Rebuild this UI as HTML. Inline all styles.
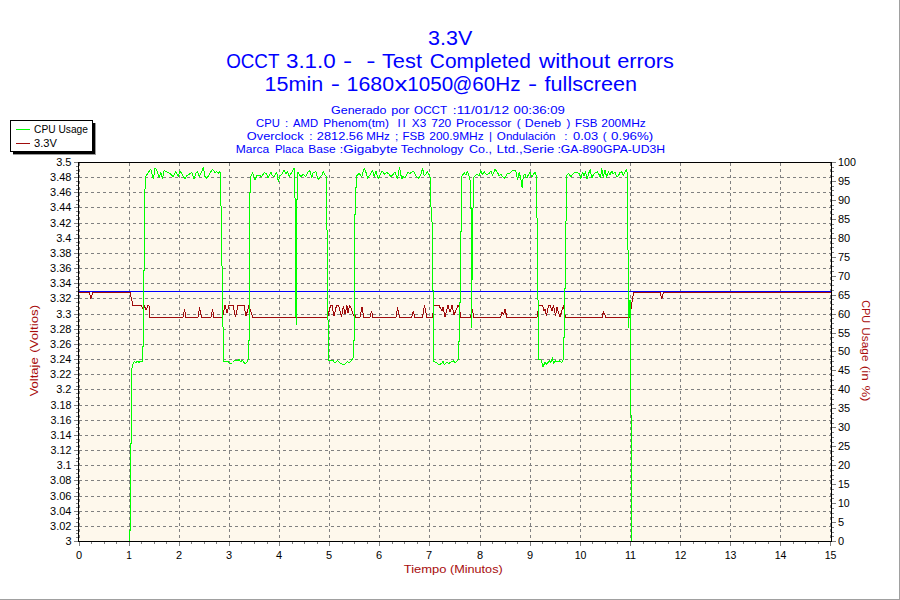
<!DOCTYPE html>
<html><head><meta charset="utf-8"><title>3.3V</title>
<style>
html,body{margin:0;padding:0;background:#fff;width:900px;height:600px;overflow:hidden;font-family:"Liberation Sans",sans-serif;}
svg text{font-family:"Liberation Sans",sans-serif;}
</style></head><body>
<svg width="900" height="600" viewBox="0 0 900 600" style="position:absolute;left:0;top:0;display:block">
<rect x="0" y="0" width="900" height="600" fill="#ffffff"/>
<g shape-rendering="crispEdges">
<rect x="899" y="0" width="1" height="600" fill="#a0a0a0"/>
<rect x="0" y="599" width="900" height="1" fill="#a0a0a0"/>
<rect x="78" y="162" width="754" height="380" fill="#fef8ec"/>
<g stroke="#808080" stroke-width="1" stroke-dasharray="3 3" fill="none"><line x1="79" y1="526.5" x2="831" y2="526.5"/><line x1="79" y1="511.5" x2="831" y2="511.5"/><line x1="79" y1="496.5" x2="831" y2="496.5"/><line x1="79" y1="480.5" x2="831" y2="480.5"/><line x1="79" y1="465.5" x2="831" y2="465.5"/><line x1="79" y1="450.5" x2="831" y2="450.5"/><line x1="79" y1="435.5" x2="831" y2="435.5"/><line x1="79" y1="420.5" x2="831" y2="420.5"/><line x1="79" y1="405.5" x2="831" y2="405.5"/><line x1="79" y1="389.5" x2="831" y2="389.5"/><line x1="79" y1="374.5" x2="831" y2="374.5"/><line x1="79" y1="359.5" x2="831" y2="359.5"/><line x1="79" y1="344.5" x2="831" y2="344.5"/><line x1="79" y1="329.5" x2="831" y2="329.5"/><line x1="79" y1="314.5" x2="831" y2="314.5"/><line x1="79" y1="298.5" x2="831" y2="298.5"/><line x1="79" y1="283.5" x2="831" y2="283.5"/><line x1="79" y1="268.5" x2="831" y2="268.5"/><line x1="79" y1="253.5" x2="831" y2="253.5"/><line x1="79" y1="238.5" x2="831" y2="238.5"/><line x1="79" y1="223.5" x2="831" y2="223.5"/><line x1="79" y1="207.5" x2="831" y2="207.5"/><line x1="79" y1="192.5" x2="831" y2="192.5"/><line x1="79" y1="177.5" x2="831" y2="177.5"/></g>
<g stroke="#808080" stroke-width="1" stroke-dasharray="3 3" fill="none"><line x1="79.5" y1="163" x2="79.5" y2="541"/><line x1="129.5" y1="163" x2="129.5" y2="541"/><line x1="179.5" y1="163" x2="179.5" y2="541"/><line x1="229.5" y1="163" x2="229.5" y2="541"/><line x1="279.5" y1="163" x2="279.5" y2="541"/><line x1="329.5" y1="163" x2="329.5" y2="541"/><line x1="379.5" y1="163" x2="379.5" y2="541"/><line x1="429.5" y1="163" x2="429.5" y2="541"/><line x1="480.5" y1="163" x2="480.5" y2="541"/><line x1="530.5" y1="163" x2="530.5" y2="541"/><line x1="580.5" y1="163" x2="580.5" y2="541"/><line x1="630.5" y1="163" x2="630.5" y2="541"/><line x1="680.5" y1="163" x2="680.5" y2="541"/><line x1="730.5" y1="163" x2="730.5" y2="541"/><line x1="780.5" y1="163" x2="780.5" y2="541"/><line x1="830.5" y1="163" x2="830.5" y2="541"/></g>
<g fill="#808080"><rect x="74" y="541" width="4" height="1"/><rect x="76" y="537" width="2" height="1"/><rect x="76" y="533" width="2" height="1"/><rect x="76" y="530" width="2" height="1"/><rect x="74" y="526" width="4" height="1"/><rect x="76" y="522" width="2" height="1"/><rect x="76" y="518" width="2" height="1"/><rect x="76" y="514" width="2" height="1"/><rect x="74" y="511" width="4" height="1"/><rect x="76" y="507" width="2" height="1"/><rect x="76" y="503" width="2" height="1"/><rect x="76" y="499" width="2" height="1"/><rect x="74" y="496" width="4" height="1"/><rect x="76" y="492" width="2" height="1"/><rect x="76" y="488" width="2" height="1"/><rect x="76" y="484" width="2" height="1"/><rect x="74" y="480" width="4" height="1"/><rect x="76" y="477" width="2" height="1"/><rect x="76" y="473" width="2" height="1"/><rect x="76" y="469" width="2" height="1"/><rect x="74" y="465" width="4" height="1"/><rect x="76" y="461" width="2" height="1"/><rect x="76" y="458" width="2" height="1"/><rect x="76" y="454" width="2" height="1"/><rect x="74" y="450" width="4" height="1"/><rect x="76" y="446" width="2" height="1"/><rect x="76" y="442" width="2" height="1"/><rect x="76" y="439" width="2" height="1"/><rect x="74" y="435" width="4" height="1"/><rect x="76" y="431" width="2" height="1"/><rect x="76" y="427" width="2" height="1"/><rect x="76" y="424" width="2" height="1"/><rect x="74" y="420" width="4" height="1"/><rect x="76" y="416" width="2" height="1"/><rect x="76" y="412" width="2" height="1"/><rect x="76" y="408" width="2" height="1"/><rect x="74" y="405" width="4" height="1"/><rect x="76" y="401" width="2" height="1"/><rect x="76" y="397" width="2" height="1"/><rect x="76" y="393" width="2" height="1"/><rect x="74" y="389" width="4" height="1"/><rect x="76" y="386" width="2" height="1"/><rect x="76" y="382" width="2" height="1"/><rect x="76" y="378" width="2" height="1"/><rect x="74" y="374" width="4" height="1"/><rect x="76" y="370" width="2" height="1"/><rect x="76" y="367" width="2" height="1"/><rect x="76" y="363" width="2" height="1"/><rect x="74" y="359" width="4" height="1"/><rect x="76" y="355" width="2" height="1"/><rect x="76" y="351" width="2" height="1"/><rect x="76" y="348" width="2" height="1"/><rect x="74" y="344" width="4" height="1"/><rect x="76" y="340" width="2" height="1"/><rect x="76" y="336" width="2" height="1"/><rect x="76" y="333" width="2" height="1"/><rect x="74" y="329" width="4" height="1"/><rect x="76" y="325" width="2" height="1"/><rect x="76" y="321" width="2" height="1"/><rect x="76" y="317" width="2" height="1"/><rect x="74" y="314" width="4" height="1"/><rect x="76" y="310" width="2" height="1"/><rect x="76" y="306" width="2" height="1"/><rect x="76" y="302" width="2" height="1"/><rect x="74" y="298" width="4" height="1"/><rect x="76" y="295" width="2" height="1"/><rect x="76" y="291" width="2" height="1"/><rect x="76" y="287" width="2" height="1"/><rect x="74" y="283" width="4" height="1"/><rect x="76" y="279" width="2" height="1"/><rect x="76" y="276" width="2" height="1"/><rect x="76" y="272" width="2" height="1"/><rect x="74" y="268" width="4" height="1"/><rect x="76" y="264" width="2" height="1"/><rect x="76" y="261" width="2" height="1"/><rect x="76" y="257" width="2" height="1"/><rect x="74" y="253" width="4" height="1"/><rect x="76" y="249" width="2" height="1"/><rect x="76" y="245" width="2" height="1"/><rect x="76" y="242" width="2" height="1"/><rect x="74" y="238" width="4" height="1"/><rect x="76" y="234" width="2" height="1"/><rect x="76" y="230" width="2" height="1"/><rect x="76" y="226" width="2" height="1"/><rect x="74" y="223" width="4" height="1"/><rect x="76" y="219" width="2" height="1"/><rect x="76" y="215" width="2" height="1"/><rect x="76" y="211" width="2" height="1"/><rect x="74" y="207" width="4" height="1"/><rect x="76" y="204" width="2" height="1"/><rect x="76" y="200" width="2" height="1"/><rect x="76" y="196" width="2" height="1"/><rect x="74" y="192" width="4" height="1"/><rect x="76" y="189" width="2" height="1"/><rect x="76" y="185" width="2" height="1"/><rect x="76" y="181" width="2" height="1"/><rect x="74" y="177" width="4" height="1"/><rect x="76" y="173" width="2" height="1"/><rect x="76" y="170" width="2" height="1"/><rect x="76" y="166" width="2" height="1"/><rect x="74" y="162" width="4" height="1"/><rect x="832" y="541" width="4" height="1"/><rect x="832" y="536" width="2" height="1"/><rect x="832" y="532" width="2" height="1"/><rect x="832" y="527" width="2" height="1"/><rect x="832" y="522" width="4" height="1"/><rect x="832" y="517" width="2" height="1"/><rect x="832" y="513" width="2" height="1"/><rect x="832" y="508" width="2" height="1"/><rect x="832" y="503" width="4" height="1"/><rect x="832" y="498" width="2" height="1"/><rect x="832" y="494" width="2" height="1"/><rect x="832" y="489" width="2" height="1"/><rect x="832" y="484" width="4" height="1"/><rect x="832" y="479" width="2" height="1"/><rect x="832" y="475" width="2" height="1"/><rect x="832" y="470" width="2" height="1"/><rect x="832" y="465" width="4" height="1"/><rect x="832" y="460" width="2" height="1"/><rect x="832" y="456" width="2" height="1"/><rect x="832" y="451" width="2" height="1"/><rect x="832" y="446" width="4" height="1"/><rect x="832" y="442" width="2" height="1"/><rect x="832" y="437" width="2" height="1"/><rect x="832" y="432" width="2" height="1"/><rect x="832" y="427" width="4" height="1"/><rect x="832" y="423" width="2" height="1"/><rect x="832" y="418" width="2" height="1"/><rect x="832" y="413" width="2" height="1"/><rect x="832" y="408" width="4" height="1"/><rect x="832" y="404" width="2" height="1"/><rect x="832" y="399" width="2" height="1"/><rect x="832" y="394" width="2" height="1"/><rect x="832" y="389" width="4" height="1"/><rect x="832" y="385" width="2" height="1"/><rect x="832" y="380" width="2" height="1"/><rect x="832" y="375" width="2" height="1"/><rect x="832" y="370" width="4" height="1"/><rect x="832" y="366" width="2" height="1"/><rect x="832" y="361" width="2" height="1"/><rect x="832" y="356" width="2" height="1"/><rect x="832" y="351" width="4" height="1"/><rect x="832" y="347" width="2" height="1"/><rect x="832" y="342" width="2" height="1"/><rect x="832" y="337" width="2" height="1"/><rect x="832" y="333" width="4" height="1"/><rect x="832" y="328" width="2" height="1"/><rect x="832" y="323" width="2" height="1"/><rect x="832" y="318" width="2" height="1"/><rect x="832" y="314" width="4" height="1"/><rect x="832" y="309" width="2" height="1"/><rect x="832" y="304" width="2" height="1"/><rect x="832" y="299" width="2" height="1"/><rect x="832" y="295" width="4" height="1"/><rect x="832" y="290" width="2" height="1"/><rect x="832" y="285" width="2" height="1"/><rect x="832" y="280" width="2" height="1"/><rect x="832" y="276" width="4" height="1"/><rect x="832" y="271" width="2" height="1"/><rect x="832" y="266" width="2" height="1"/><rect x="832" y="261" width="2" height="1"/><rect x="832" y="257" width="4" height="1"/><rect x="832" y="252" width="2" height="1"/><rect x="832" y="247" width="2" height="1"/><rect x="832" y="243" width="2" height="1"/><rect x="832" y="238" width="4" height="1"/><rect x="832" y="233" width="2" height="1"/><rect x="832" y="228" width="2" height="1"/><rect x="832" y="224" width="2" height="1"/><rect x="832" y="219" width="4" height="1"/><rect x="832" y="214" width="2" height="1"/><rect x="832" y="209" width="2" height="1"/><rect x="832" y="205" width="2" height="1"/><rect x="832" y="200" width="4" height="1"/><rect x="832" y="195" width="2" height="1"/><rect x="832" y="190" width="2" height="1"/><rect x="832" y="186" width="2" height="1"/><rect x="832" y="181" width="4" height="1"/><rect x="832" y="176" width="2" height="1"/><rect x="832" y="171" width="2" height="1"/><rect x="832" y="167" width="2" height="1"/><rect x="832" y="162" width="4" height="1"/><rect x="79" y="542" width="1" height="4"/><rect x="91" y="542" width="1" height="2"/><rect x="104" y="542" width="1" height="2"/><rect x="116" y="542" width="1" height="2"/><rect x="129" y="542" width="1" height="4"/><rect x="141" y="542" width="1" height="2"/><rect x="154" y="542" width="1" height="2"/><rect x="166" y="542" width="1" height="2"/><rect x="179" y="542" width="1" height="4"/><rect x="191" y="542" width="1" height="2"/><rect x="204" y="542" width="1" height="2"/><rect x="216" y="542" width="1" height="2"/><rect x="229" y="542" width="1" height="4"/><rect x="241" y="542" width="1" height="2"/><rect x="254" y="542" width="1" height="2"/><rect x="267" y="542" width="1" height="2"/><rect x="279" y="542" width="1" height="4"/><rect x="292" y="542" width="1" height="2"/><rect x="304" y="542" width="1" height="2"/><rect x="317" y="542" width="1" height="2"/><rect x="329" y="542" width="1" height="4"/><rect x="342" y="542" width="1" height="2"/><rect x="354" y="542" width="1" height="2"/><rect x="367" y="542" width="1" height="2"/><rect x="379" y="542" width="1" height="4"/><rect x="392" y="542" width="1" height="2"/><rect x="404" y="542" width="1" height="2"/><rect x="417" y="542" width="1" height="2"/><rect x="429" y="542" width="1" height="4"/><rect x="442" y="542" width="1" height="2"/><rect x="455" y="542" width="1" height="2"/><rect x="467" y="542" width="1" height="2"/><rect x="480" y="542" width="1" height="4"/><rect x="492" y="542" width="1" height="2"/><rect x="505" y="542" width="1" height="2"/><rect x="517" y="542" width="1" height="2"/><rect x="530" y="542" width="1" height="4"/><rect x="542" y="542" width="1" height="2"/><rect x="555" y="542" width="1" height="2"/><rect x="567" y="542" width="1" height="2"/><rect x="580" y="542" width="1" height="4"/><rect x="592" y="542" width="1" height="2"/><rect x="605" y="542" width="1" height="2"/><rect x="617" y="542" width="1" height="2"/><rect x="630" y="542" width="1" height="4"/><rect x="643" y="542" width="1" height="2"/><rect x="655" y="542" width="1" height="2"/><rect x="668" y="542" width="1" height="2"/><rect x="680" y="542" width="1" height="4"/><rect x="693" y="542" width="1" height="2"/><rect x="705" y="542" width="1" height="2"/><rect x="718" y="542" width="1" height="2"/><rect x="730" y="542" width="1" height="4"/><rect x="743" y="542" width="1" height="2"/><rect x="755" y="542" width="1" height="2"/><rect x="768" y="542" width="1" height="2"/><rect x="780" y="542" width="1" height="4"/><rect x="793" y="542" width="1" height="2"/><rect x="805" y="542" width="1" height="2"/><rect x="818" y="542" width="1" height="2"/><rect x="830" y="542" width="1" height="4"/></g>
</g>
<g fill="none" stroke-linejoin="bevel" stroke-linecap="butt" shape-rendering="crispEdges">
<polyline stroke="#a00c0c" stroke-width="1" points="79.0,292.5 89.5,292.5 90.7,298.5 93.0,292.5 130.0,292.5 131.5,299.0 133.0,305.5 141.0,305.5 143.5,310.0 144.7,305.5 146.0,310.0 148.0,305.5 149.0,305.5 150.0,317.5 183.0,317.5 184.5,309.0 186.0,317.5 198.0,317.5 199.5,307.5 201.5,317.5 211.0,317.5 212.5,309.0 214.0,317.5 222.5,317.5 225.0,305.5 227.0,313.0 229.0,305.5 233.0,305.5 235.5,317.0 238.0,305.5 244.0,305.5 246.0,316.0 249.0,305.5 251.0,312.0 253.0,317.5 327.5,317.5 330.5,305.5 332.0,305.5 334.0,316.0 336.5,305.5 338.5,305.5 341.5,316.5 343.5,306.0 345.0,314.0 347.0,305.5 348.0,313.0 349.5,305.5 351.0,308.0 353.5,316.0 355.0,315.0 356.0,317.5 360.0,317.5 362.0,307.5 364.0,317.5 370.0,317.5 371.5,310.8 373.0,317.5 396.0,317.5 397.5,307.5 399.5,317.5 411.5,317.5 413.3,311.5 415.0,317.5 422.5,317.5 424.5,305.5 427.0,317.5 432.5,317.5 434.0,305.5 439.0,305.5 442.0,311.0 443.0,307.0 445.0,317.0 448.0,305.5 450.0,312.0 452.0,305.5 454.0,315.0 456.0,310.0 458.0,305.5 459.5,307.0 460.5,317.5 470.5,317.5 472.0,309.0 474.0,317.5 500.5,317.5 502.0,312.0 503.5,315.0 505.0,309.5 507.0,317.5 537.0,317.5 539.0,305.5 542.5,305.5 544.0,311.0 545.0,309.0 546.5,316.0 548.5,305.5 550.0,305.5 552.0,311.0 553.5,305.5 555.5,315.5 557.0,307.5 558.5,313.0 560.0,317.0 562.0,310.0 563.5,305.5 565.5,317.5 602.0,317.5 603.5,311.5 606.0,317.5 630.0,317.5 631.5,305.0 632.5,300.0 633.5,292.5 660.0,292.5 661.7,298.5 663.5,292.5 831.0,292.5"/>
<line x1="79" y1="291.5" x2="831" y2="291.5" stroke="#0000ff" stroke-width="1" shape-rendering="crispEdges"/>
<polyline stroke="#00ff00" stroke-width="1" points="129.5,541.0 129.5,530.0 130.5,530.0 130.5,443.0 131.5,443.0 131.5,372.0 132.3,366.0 133.2,363.0 134.5,361.8 136.0,362.3 137.5,361.5 139.0,362.3 140.5,361.5 142.5,361.5 142.7,346.0 143.5,346.0 143.5,270.0 144.6,270.0 144.6,189.0 145.4,189.0 145.4,177.0 146.7,175.0 148.3,172.5 150.8,169.2 152.5,175.8 153.3,179.2 155.0,168.3 156.7,170.0 159.2,177.5 160.8,172.5 162.5,179.2 164.2,170.0 165.8,171.7 168.3,172.5 170.8,174.2 173.3,176.7 175.8,171.7 178.3,176.7 180.0,170.8 182.5,175.0 185.0,179.2 186.7,175.8 189.2,174.2 191.7,172.5 194.2,179.2 195.8,173.3 197.5,171.7 199.2,176.7 201.7,171.7 203.3,167.5 205.0,176.7 206.7,178.3 209.2,175.0 210.8,171.7 212.5,169.2 215.0,172.5 216.7,171.7 218.3,173.3 220.0,171.7 220.5,176.7 220.5,206.0 221.5,206.0 221.5,266.0 222.5,266.0 222.5,327.0 223.5,327.0 223.5,361.0 224.2,361.7 228.3,361.7 230.0,364.2 232.5,362.5 235.0,360.0 236.7,360.8 239.2,359.7 240.8,361.7 242.5,360.0 245.0,364.2 247.5,361.7 248.4,358.3 248.5,340.0 249.5,340.0 249.5,192.0 250.5,192.0 250.5,177.0 250.8,176.7 252.5,172.5 255.0,180.0 256.7,175.8 259.2,175.0 261.7,176.7 264.2,172.5 266.7,174.2 268.3,178.3 270.8,171.7 272.5,175.8 274.2,176.7 276.7,171.7 278.3,181.7 280.0,175.8 282.5,173.3 284.2,170.0 285.8,174.2 287.5,170.8 289.2,176.7 291.7,172.5 294.2,168.3 294.6,171.0 294.6,198.0 295.6,198.0 295.6,300.0 296.2,324.7 296.6,285.0 296.6,199.0 297.6,199.0 297.6,173.0 298.3,172.5 300.8,176.7 303.3,174.2 305.8,176.7 308.3,171.7 310.0,170.8 311.7,177.5 313.3,172.5 315.8,171.7 318.3,180.0 320.0,176.7 321.7,175.8 323.3,171.7 325.0,175.0 326.6,176.7 326.6,230.0 327.5,230.0 327.5,320.0 328.4,320.0 328.4,360.0 330.8,360.8 332.5,360.0 335.0,363.3 337.5,360.8 340.0,363.3 342.5,364.2 345.0,364.2 347.5,361.7 349.2,362.5 350.8,361.7 353.3,357.5 353.6,340.0 354.6,340.0 354.6,214.0 355.5,214.0 355.5,187.0 356.5,187.0 356.5,176.0 356.7,175.8 359.2,173.3 361.7,176.7 364.2,168.3 365.8,171.7 367.5,178.3 370.0,175.0 372.5,170.0 374.2,176.7 375.8,170.8 378.3,179.2 380.8,173.3 382.5,170.8 384.2,174.2 386.7,172.5 389.2,174.2 390.8,176.7 393.3,174.2 395.0,171.7 397.5,179.2 399.5,167.5 401.7,179.2 403.3,175.8 405.0,178.3 407.5,172.5 410.0,173.3 413.3,170.8 415.8,175.8 418.3,178.3 420.8,175.0 422.5,168.3 424.2,175.8 425.8,174.2 427.5,171.7 429.2,175.0 430.0,176.7 430.0,185.0 430.7,185.0 430.7,207.0 431.5,207.0 431.5,222.0 432.4,222.0 432.4,290.0 433.2,290.0 433.2,361.0 434.2,361.7 436.7,362.5 439.2,365.0 441.7,363.3 443.0,360.8 444.2,365.0 446.7,362.5 449.2,363.3 451.7,361.7 453.3,360.8 455.0,362.5 457.5,360.8 458.6,359.0 458.6,341.0 459.5,341.0 459.5,302.0 460.5,302.0 460.5,231.0 461.6,231.0 461.6,177.0 461.7,176.7 464.2,172.5 465.8,175.0 467.5,171.7 469.2,176.7 470.2,181.0 470.2,208.0 471.0,208.0 471.3,327.6 471.8,280.0 472.4,280.0 472.4,208.0 473.2,208.0 473.2,178.0 474.2,176.7 476.7,174.2 479.2,175.8 480.8,170.0 482.5,175.0 484.2,171.7 486.7,175.0 489.2,173.3 490.8,170.8 492.5,175.8 495.0,169.2 497.5,172.5 499.2,175.8 500.8,174.2 502.5,176.7 505.0,178.3 506.7,174.2 509.2,173.3 510.8,172.5 512.5,170.0 515.8,170.8 517.5,180.0 519.2,172.5 520.8,178.3 522.2,188.3 523.3,175.8 525.0,174.2 526.7,178.3 528.3,175.0 530.0,172.5 531.7,176.7 533.3,175.0 535.0,171.7 536.4,176.7 536.5,218.0 537.5,218.0 537.5,300.0 538.3,300.0 538.3,359.0 539.2,359.2 541.3,360.0 543.0,366.7 545.0,362.5 546.7,364.2 549.2,360.8 550.8,362.5 552.5,357.5 553.3,363.3 555.8,360.8 557.5,361.7 559.2,360.8 561.7,362.5 563.4,359.2 563.5,337.0 564.5,337.0 564.5,288.0 565.5,288.0 565.5,221.0 566.4,221.0 566.4,177.0 566.7,175.8 568.3,173.3 570.8,176.7 573.3,173.3 575.8,172.5 579.2,173.3 580.8,179.2 582.5,172.5 584.2,175.8 585.5,170.8 587.0,179.2 588.7,173.3 590.3,169.2 591.7,178.3 593.7,174.2 595.8,172.5 597.5,171.7 599.2,175.0 600.5,178.3 601.7,168.3 603.3,177.5 605.0,170.0 606.7,177.5 608.3,171.7 610.0,175.0 611.7,170.8 613.3,174.2 615.0,171.7 616.7,176.7 618.3,175.8 620.0,172.5 621.7,171.7 623.3,175.8 625.0,171.7 626.7,169.2 627.5,176.7 627.5,250.0 628.4,250.0 628.4,327.8 629.1,300.0 629.6,317.0 630.1,300.0 630.5,318.0 630.5,415.0 631.5,415.0 631.5,541.0"/>
</g>
<g shape-rendering="crispEdges" fill="#000">
<rect x="78" y="162" width="754" height="1"/>
<rect x="78" y="541" width="754" height="1"/>
<rect x="78" y="162" width="1" height="380"/>
<rect x="831" y="162" width="1" height="380"/>
</g>
<g shape-rendering="crispEdges">
<rect x="13" y="123" width="83" height="32" fill="#9a9a9a"/>
<rect x="13" y="123" width="82" height="31" fill="#000"/>
<rect x="10.5" y="120.5" width="82" height="31" fill="#fff" stroke="#000" stroke-width="1"/>
<rect x="16" y="129" width="14" height="1" fill="#00ff00"/>
<rect x="16" y="143" width="14" height="1" fill="#a00c0c"/>
</g>
<g font-family="Liberation Sans, sans-serif">
<text x="428.07" y="45" font-size="20" fill="#0000ff" text-anchor="start"  textLength="44.27" lengthAdjust="spacingAndGlyphs">3.3V</text>
<text x="226.15" y="67.7" font-size="20" fill="#0000ff" text-anchor="start"  textLength="53.28" lengthAdjust="spacingAndGlyphs">OCCT</text>
<text x="285.94" y="67.7" font-size="20" fill="#0000ff" text-anchor="start"  textLength="49.76" lengthAdjust="spacingAndGlyphs">3.1.0</text>
<text x="342.90" y="67.7" font-size="20" fill="#0000ff" text-anchor="start"  textLength="9.15" lengthAdjust="spacingAndGlyphs">-</text>
<text x="366.20" y="67.7" font-size="20" fill="#0000ff" text-anchor="start"  textLength="9.25" lengthAdjust="spacingAndGlyphs">-</text>
<text x="381.97" y="67.7" font-size="20" fill="#0000ff" text-anchor="start"  textLength="39.99" lengthAdjust="spacingAndGlyphs">Test</text>
<text x="429.89" y="67.7" font-size="20" fill="#0000ff" text-anchor="start"  textLength="100.97" lengthAdjust="spacingAndGlyphs">Completed</text>
<text x="538.99" y="67.7" font-size="20" fill="#0000ff" text-anchor="start"  textLength="71.25" lengthAdjust="spacingAndGlyphs">without</text>
<text x="617.15" y="67.7" font-size="20" fill="#0000ff" text-anchor="start"  textLength="56.72" lengthAdjust="spacingAndGlyphs">errors</text>
<text x="264.64" y="90.7" font-size="20" fill="#0000ff" text-anchor="start"  textLength="58.55" lengthAdjust="spacingAndGlyphs">15min</text>
<text x="330.70" y="90.7" font-size="20" fill="#0000ff" text-anchor="start"  textLength="9.25" lengthAdjust="spacingAndGlyphs">-</text>
<text x="346.64" y="90.7" font-size="20" fill="#0000ff" text-anchor="start"  textLength="47.44" lengthAdjust="spacingAndGlyphs">1680</text>
<text x="394.51" y="90.7" font-size="20" fill="#0000ff" text-anchor="start"  textLength="12.85" lengthAdjust="spacingAndGlyphs">x</text>
<text x="407.39" y="90.7" font-size="20" fill="#0000ff" text-anchor="start"  textLength="45.85" lengthAdjust="spacingAndGlyphs">1050</text>
<text x="452.62" y="90.7" font-size="20" fill="#0000ff" text-anchor="start"  textLength="19.73" lengthAdjust="spacingAndGlyphs">@</text>
<text x="472.39" y="90.7" font-size="20" fill="#0000ff" text-anchor="start"  textLength="48.24" lengthAdjust="spacingAndGlyphs">60Hz</text>
<text x="527.90" y="90.7" font-size="20" fill="#0000ff" text-anchor="start"  textLength="9.15" lengthAdjust="spacingAndGlyphs">-</text>
<text x="544.64" y="90.7" font-size="20" fill="#0000ff" text-anchor="start"  textLength="92.36" lengthAdjust="spacingAndGlyphs">fullscreen</text>
<text x="331.02" y="113.7" font-size="11.5" fill="#0000ff" text-anchor="start"  textLength="55.42" lengthAdjust="spacingAndGlyphs">Generado</text>
<text x="391.21" y="113.7" font-size="11.5" fill="#0000ff" text-anchor="start"  textLength="18.29" lengthAdjust="spacingAndGlyphs">por</text>
<text x="414.09" y="113.7" font-size="11.5" fill="#0000ff" text-anchor="start"  textLength="33.01" lengthAdjust="spacingAndGlyphs">OCCT</text>
<text x="452.88" y="113.7" font-size="11.5" fill="#0000ff" text-anchor="start"  textLength="56.27" lengthAdjust="spacingAndGlyphs">:11/01/12</text>
<text x="513.59" y="113.7" font-size="11.5" fill="#0000ff" text-anchor="start"  textLength="51.32" lengthAdjust="spacingAndGlyphs">00:36:09</text>
<text x="256.07" y="126.7" font-size="11.5" fill="#0000ff" text-anchor="start"  textLength="23.79" lengthAdjust="spacingAndGlyphs">CPU</text>
<text x="284.89" y="126.7" font-size="11.5" fill="#0000ff" text-anchor="start" >:</text>
<text x="292.98" y="126.7" font-size="11.5" fill="#0000ff" text-anchor="start"  textLength="25.09" lengthAdjust="spacingAndGlyphs">AMD</text>
<text x="323.32" y="126.7" font-size="11.5" fill="#0000ff" text-anchor="start"  textLength="65.64" lengthAdjust="spacingAndGlyphs">Phenom(tm)</text>
<text x="397.39" y="126.7" font-size="11.5" fill="#0000ff" textLength="8.20" lengthAdjust="spacing">II</text>
<text x="411.86" y="126.7" font-size="11.5" fill="#0000ff" text-anchor="start"  textLength="14.32" lengthAdjust="spacingAndGlyphs">X3</text>
<text x="431.26" y="126.7" font-size="11.5" fill="#0000ff" text-anchor="start"  textLength="20.02" lengthAdjust="spacingAndGlyphs">720</text>
<text x="456.11" y="126.7" font-size="11.5" fill="#0000ff" text-anchor="start"  textLength="55.21" lengthAdjust="spacingAndGlyphs">Processor</text>
<text x="516.83" y="126.7" font-size="11.5" fill="#0000ff" text-anchor="start" >(</text>
<text x="524.89" y="126.7" font-size="11.5" fill="#0000ff" text-anchor="start"  textLength="36.33" lengthAdjust="spacingAndGlyphs">Deneb</text>
<text x="566.49" y="126.7" font-size="11.5" fill="#0000ff" text-anchor="start" >)</text>
<text x="574.95" y="126.7" font-size="11.5" fill="#0000ff" text-anchor="start"  textLength="22.40" lengthAdjust="spacingAndGlyphs">FSB</text>
<text x="601.37" y="126.7" font-size="11.5" fill="#0000ff" text-anchor="start"  textLength="44.33" lengthAdjust="spacingAndGlyphs">200MHz</text>
<text x="246.84" y="139.7" font-size="11.5" fill="#0000ff" text-anchor="start"  textLength="56.71" lengthAdjust="spacingAndGlyphs">Overclock</text>
<text x="309.24" y="139.7" font-size="11.5" fill="#0000ff" text-anchor="start" >:</text>
<text x="316.82" y="139.7" font-size="11.5" fill="#0000ff" text-anchor="start"  textLength="46.25" lengthAdjust="spacingAndGlyphs">2812.56</text>
<text x="366.15" y="139.7" font-size="11.5" fill="#0000ff" text-anchor="start"  textLength="23.63" lengthAdjust="spacingAndGlyphs">MHz</text>
<text x="395.03" y="139.7" font-size="11.5" fill="#0000ff" text-anchor="start" >;</text>
<text x="402.45" y="139.7" font-size="11.5" fill="#0000ff" text-anchor="start"  textLength="22.40" lengthAdjust="spacingAndGlyphs">FSB</text>
<text x="429.35" y="139.7" font-size="11.5" fill="#0000ff" text-anchor="start"  textLength="54.32" lengthAdjust="spacingAndGlyphs">200.9MHz</text>
<text x="488.97" y="139.7" font-size="11.5" fill="#0000ff" text-anchor="start" >|</text>
<text x="496.89" y="139.7" font-size="11.5" fill="#0000ff" text-anchor="start"  textLength="58.68" lengthAdjust="spacingAndGlyphs">Ondulaci&#243;n</text>
<text x="564.24" y="139.7" font-size="11.5" fill="#0000ff" text-anchor="start" >:</text>
<text x="573.10" y="139.7" font-size="11.5" fill="#0000ff" text-anchor="start"  textLength="25.03" lengthAdjust="spacingAndGlyphs">0.03</text>
<text x="602.68" y="139.7" font-size="11.5" fill="#0000ff" text-anchor="start" >(</text>
<text x="611.09" y="139.7" font-size="11.5" fill="#0000ff" text-anchor="start"  textLength="42.16" lengthAdjust="spacingAndGlyphs">0.96%)</text>
<text x="235.82" y="152.6" font-size="11.5" fill="#0000ff" text-anchor="start"  textLength="33.48" lengthAdjust="spacingAndGlyphs">Marca</text>
<text x="274.95" y="152.6" font-size="11.5" fill="#0000ff" text-anchor="start"  textLength="28.55" lengthAdjust="spacingAndGlyphs">Placa</text>
<text x="308.32" y="152.6" font-size="11.5" fill="#0000ff" text-anchor="start"  textLength="27.31" lengthAdjust="spacingAndGlyphs">Base</text>
<text x="339.48" y="152.6" font-size="11.5" fill="#0000ff" text-anchor="start"  textLength="57.98" lengthAdjust="spacingAndGlyphs">:Gigabyte</text>
<text x="400.80" y="152.6" font-size="11.5" fill="#0000ff" text-anchor="start"  textLength="62.68" lengthAdjust="spacingAndGlyphs">Technology</text>
<text x="469.02" y="152.6" font-size="11.5" fill="#0000ff" text-anchor="start"  textLength="22.93" lengthAdjust="spacingAndGlyphs">Co.,</text>
<text x="496.57" y="152.6" font-size="11.5" fill="#0000ff" text-anchor="start"  textLength="57.77" lengthAdjust="spacingAndGlyphs">Ltd.,Serie</text>
<text x="557.45" y="152.6" font-size="11.5" fill="#0000ff" text-anchor="start"  textLength="107.65" lengthAdjust="spacingAndGlyphs">:GA-890GPA-UD3H</text>
<text x="34.1" y="133" font-size="11.6" fill="#000" text-anchor="start"  textLength="53.8" lengthAdjust="spacingAndGlyphs">CPU Usage</text>
<text x="34.1" y="147" font-size="11.6" fill="#000" text-anchor="start"  textLength="22.9" lengthAdjust="spacingAndGlyphs">3.3V</text>
<text x="71.5" y="545" font-size="11.6" fill="#000" text-anchor="end"  textLength="6.12" lengthAdjust="spacingAndGlyphs">3</text>
<text x="71.5" y="530" font-size="11.6" fill="#000" text-anchor="end"  textLength="21.41" lengthAdjust="spacingAndGlyphs">3.02</text>
<text x="71.5" y="515" font-size="11.6" fill="#000" text-anchor="end"  textLength="21.41" lengthAdjust="spacingAndGlyphs">3.04</text>
<text x="71.5" y="500" font-size="11.6" fill="#000" text-anchor="end"  textLength="21.41" lengthAdjust="spacingAndGlyphs">3.06</text>
<text x="71.5" y="484" font-size="11.6" fill="#000" text-anchor="end"  textLength="21.41" lengthAdjust="spacingAndGlyphs">3.08</text>
<text x="71.5" y="469" font-size="11.6" fill="#000" text-anchor="end"  textLength="14.77" lengthAdjust="spacingAndGlyphs">3.1</text>
<text x="71.5" y="454" font-size="11.6" fill="#000" text-anchor="end"  textLength="20.89" lengthAdjust="spacingAndGlyphs">3.12</text>
<text x="71.5" y="439" font-size="11.6" fill="#000" text-anchor="end"  textLength="20.89" lengthAdjust="spacingAndGlyphs">3.14</text>
<text x="71.5" y="424" font-size="11.6" fill="#000" text-anchor="end"  textLength="20.89" lengthAdjust="spacingAndGlyphs">3.16</text>
<text x="71.5" y="409" font-size="11.6" fill="#000" text-anchor="end"  textLength="20.89" lengthAdjust="spacingAndGlyphs">3.18</text>
<text x="71.5" y="393" font-size="11.6" fill="#000" text-anchor="end"  textLength="15.29" lengthAdjust="spacingAndGlyphs">3.2</text>
<text x="71.5" y="378" font-size="11.6" fill="#000" text-anchor="end"  textLength="21.41" lengthAdjust="spacingAndGlyphs">3.22</text>
<text x="71.5" y="363" font-size="11.6" fill="#000" text-anchor="end"  textLength="21.41" lengthAdjust="spacingAndGlyphs">3.24</text>
<text x="71.5" y="348" font-size="11.6" fill="#000" text-anchor="end"  textLength="21.41" lengthAdjust="spacingAndGlyphs">3.26</text>
<text x="71.5" y="333" font-size="11.6" fill="#000" text-anchor="end"  textLength="21.41" lengthAdjust="spacingAndGlyphs">3.28</text>
<text x="71.5" y="318" font-size="11.6" fill="#000" text-anchor="end"  textLength="15.29" lengthAdjust="spacingAndGlyphs">3.3</text>
<text x="71.5" y="302" font-size="11.6" fill="#000" text-anchor="end"  textLength="21.41" lengthAdjust="spacingAndGlyphs">3.32</text>
<text x="71.5" y="287" font-size="11.6" fill="#000" text-anchor="end"  textLength="21.41" lengthAdjust="spacingAndGlyphs">3.34</text>
<text x="71.5" y="272" font-size="11.6" fill="#000" text-anchor="end"  textLength="21.41" lengthAdjust="spacingAndGlyphs">3.36</text>
<text x="71.5" y="257" font-size="11.6" fill="#000" text-anchor="end"  textLength="21.41" lengthAdjust="spacingAndGlyphs">3.38</text>
<text x="71.5" y="242" font-size="11.6" fill="#000" text-anchor="end"  textLength="15.29" lengthAdjust="spacingAndGlyphs">3.4</text>
<text x="71.5" y="227" font-size="11.6" fill="#000" text-anchor="end"  textLength="21.41" lengthAdjust="spacingAndGlyphs">3.42</text>
<text x="71.5" y="211" font-size="11.6" fill="#000" text-anchor="end"  textLength="21.41" lengthAdjust="spacingAndGlyphs">3.44</text>
<text x="71.5" y="196" font-size="11.6" fill="#000" text-anchor="end"  textLength="21.41" lengthAdjust="spacingAndGlyphs">3.46</text>
<text x="71.5" y="181" font-size="11.6" fill="#000" text-anchor="end"  textLength="21.41" lengthAdjust="spacingAndGlyphs">3.48</text>
<text x="71.5" y="166" font-size="11.6" fill="#000" text-anchor="end"  textLength="15.29" lengthAdjust="spacingAndGlyphs">3.5</text>
<text x="838" y="545" font-size="11.6" fill="#000" text-anchor="start"  textLength="6.12" lengthAdjust="spacingAndGlyphs">0</text>
<text x="838" y="526" font-size="11.6" fill="#000" text-anchor="start"  textLength="6.12" lengthAdjust="spacingAndGlyphs">5</text>
<text x="838" y="507" font-size="11.6" fill="#000" text-anchor="start"  textLength="11.72" lengthAdjust="spacingAndGlyphs">10</text>
<text x="838" y="488" font-size="11.6" fill="#000" text-anchor="start"  textLength="11.72" lengthAdjust="spacingAndGlyphs">15</text>
<text x="838" y="469" font-size="11.6" fill="#000" text-anchor="start"  textLength="12.23" lengthAdjust="spacingAndGlyphs">20</text>
<text x="838" y="450" font-size="11.6" fill="#000" text-anchor="start"  textLength="12.23" lengthAdjust="spacingAndGlyphs">25</text>
<text x="838" y="431" font-size="11.6" fill="#000" text-anchor="start"  textLength="12.23" lengthAdjust="spacingAndGlyphs">30</text>
<text x="838" y="412" font-size="11.6" fill="#000" text-anchor="start"  textLength="12.23" lengthAdjust="spacingAndGlyphs">35</text>
<text x="838" y="393" font-size="11.6" fill="#000" text-anchor="start"  textLength="12.23" lengthAdjust="spacingAndGlyphs">40</text>
<text x="838" y="374" font-size="11.6" fill="#000" text-anchor="start"  textLength="12.23" lengthAdjust="spacingAndGlyphs">45</text>
<text x="838" y="355" font-size="11.6" fill="#000" text-anchor="start"  textLength="12.23" lengthAdjust="spacingAndGlyphs">50</text>
<text x="838" y="337" font-size="11.6" fill="#000" text-anchor="start"  textLength="12.23" lengthAdjust="spacingAndGlyphs">55</text>
<text x="838" y="318" font-size="11.6" fill="#000" text-anchor="start"  textLength="12.23" lengthAdjust="spacingAndGlyphs">60</text>
<text x="838" y="299" font-size="11.6" fill="#000" text-anchor="start"  textLength="12.23" lengthAdjust="spacingAndGlyphs">65</text>
<text x="838" y="280" font-size="11.6" fill="#000" text-anchor="start"  textLength="12.23" lengthAdjust="spacingAndGlyphs">70</text>
<text x="838" y="261" font-size="11.6" fill="#000" text-anchor="start"  textLength="12.23" lengthAdjust="spacingAndGlyphs">75</text>
<text x="838" y="242" font-size="11.6" fill="#000" text-anchor="start"  textLength="12.23" lengthAdjust="spacingAndGlyphs">80</text>
<text x="838" y="223" font-size="11.6" fill="#000" text-anchor="start"  textLength="12.23" lengthAdjust="spacingAndGlyphs">85</text>
<text x="838" y="204" font-size="11.6" fill="#000" text-anchor="start"  textLength="12.23" lengthAdjust="spacingAndGlyphs">90</text>
<text x="838" y="185" font-size="11.6" fill="#000" text-anchor="start"  textLength="12.23" lengthAdjust="spacingAndGlyphs">95</text>
<text x="838" y="166" font-size="11.6" fill="#000" text-anchor="start"  textLength="17.83" lengthAdjust="spacingAndGlyphs">100</text>
<text x="79.1" y="559" font-size="11.6" fill="#000" text-anchor="middle"  textLength="6.12" lengthAdjust="spacingAndGlyphs">0</text>
<text x="129.1" y="559" font-size="11.6" fill="#000" text-anchor="middle"  textLength="5.60" lengthAdjust="spacingAndGlyphs">1</text>
<text x="179.1" y="559" font-size="11.6" fill="#000" text-anchor="middle"  textLength="6.12" lengthAdjust="spacingAndGlyphs">2</text>
<text x="229.1" y="559" font-size="11.6" fill="#000" text-anchor="middle"  textLength="6.12" lengthAdjust="spacingAndGlyphs">3</text>
<text x="279.1" y="559" font-size="11.6" fill="#000" text-anchor="middle"  textLength="6.12" lengthAdjust="spacingAndGlyphs">4</text>
<text x="329.1" y="559" font-size="11.6" fill="#000" text-anchor="middle"  textLength="6.12" lengthAdjust="spacingAndGlyphs">5</text>
<text x="379.1" y="559" font-size="11.6" fill="#000" text-anchor="middle"  textLength="6.12" lengthAdjust="spacingAndGlyphs">6</text>
<text x="429.1" y="559" font-size="11.6" fill="#000" text-anchor="middle"  textLength="6.12" lengthAdjust="spacingAndGlyphs">7</text>
<text x="480.1" y="559" font-size="11.6" fill="#000" text-anchor="middle"  textLength="6.12" lengthAdjust="spacingAndGlyphs">8</text>
<text x="530.1" y="559" font-size="11.6" fill="#000" text-anchor="middle"  textLength="6.12" lengthAdjust="spacingAndGlyphs">9</text>
<text x="580.5" y="559" font-size="11.6" fill="#000" text-anchor="middle"  textLength="11.72" lengthAdjust="spacingAndGlyphs">10</text>
<text x="630.5" y="559" font-size="11.6" fill="#000" text-anchor="middle"  textLength="11.20" lengthAdjust="spacingAndGlyphs">11</text>
<text x="680.5" y="559" font-size="11.6" fill="#000" text-anchor="middle"  textLength="11.72" lengthAdjust="spacingAndGlyphs">12</text>
<text x="730.5" y="559" font-size="11.6" fill="#000" text-anchor="middle"  textLength="11.72" lengthAdjust="spacingAndGlyphs">13</text>
<text x="780.5" y="559" font-size="11.6" fill="#000" text-anchor="middle"  textLength="11.72" lengthAdjust="spacingAndGlyphs">14</text>
<text x="830.5" y="559" font-size="11.6" fill="#000" text-anchor="middle"  textLength="11.72" lengthAdjust="spacingAndGlyphs">15</text>
<text x="403.78" y="572.6" font-size="11.5" fill="#a80c0c" text-anchor="start"  textLength="42.73" lengthAdjust="spacingAndGlyphs">Tiempo</text>
<text x="449.91" y="572.6" font-size="11.5" fill="#a80c0c" text-anchor="start"  textLength="52.82" lengthAdjust="spacingAndGlyphs">(Minutos)</text>
<g transform="translate(38,396) rotate(-90)">
<text x="-0.35" y="0" font-size="11.5" fill="#a80c0c" text-anchor="start"  textLength="39.06" lengthAdjust="spacingAndGlyphs">Voltaje</text>
<text x="43.17" y="0" font-size="11.5" fill="#a80c0c" text-anchor="start"  textLength="47.97" lengthAdjust="spacingAndGlyphs">(Voltios)</text>
</g>
<g transform="translate(862,300.8) rotate(90)">
<text x="-0.61" y="0" font-size="11.5" fill="#a80c0c" text-anchor="start"  textLength="22.94" lengthAdjust="spacingAndGlyphs">CPU</text>
<text x="26.55" y="0" font-size="11.5" fill="#a80c0c" text-anchor="start"  textLength="34.11" lengthAdjust="spacingAndGlyphs">Usage</text>
<text x="64.87" y="0" font-size="11.5" fill="#a80c0c" text-anchor="start"  textLength="15.09" lengthAdjust="spacingAndGlyphs">(in</text>
<text x="84.66" y="0" font-size="11.5" fill="#a80c0c" text-anchor="start"  textLength="16.01" lengthAdjust="spacingAndGlyphs">%)</text>
</g>
</g>
</svg>
</body></html>
